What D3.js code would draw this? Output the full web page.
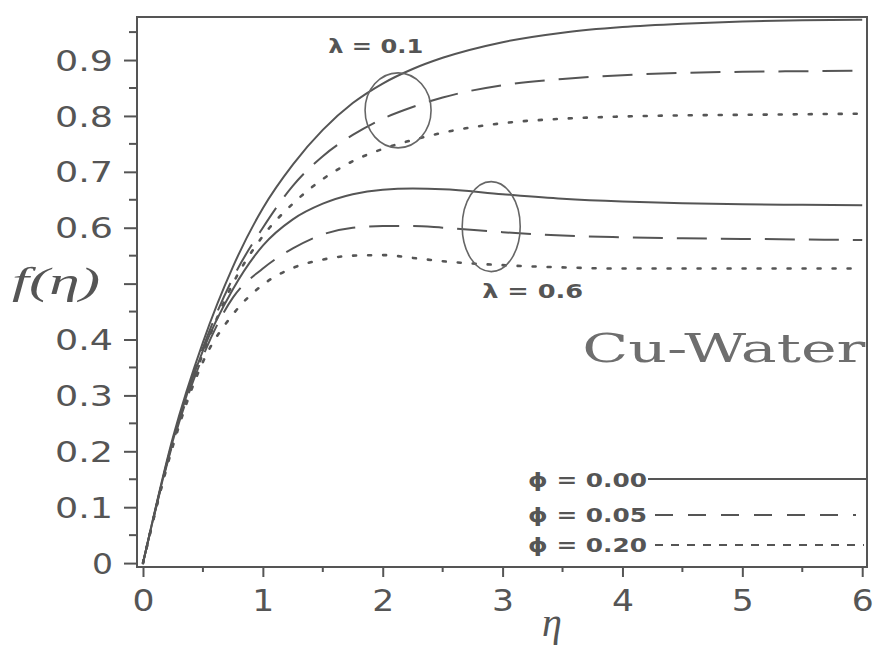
<!DOCTYPE html>
<html>
<head>
<meta charset="utf-8">
<script src="https://cdn.jsdelivr.net/npm/d3@7/dist/d3.min.js"></script>
<style>
  html, body { margin: 0; padding: 0; background: #fff; }
  svg { display: block; }
</style>
</head>
<body>
<svg id="chart" width="873" height="650"></svg>
<script>
// Similarity variable η
const eta = [0, 0.25, 0.5, 0.75, 1, 1.25, 1.5, 1.75, 2, 2.25, 2.5, 3, 3.5, 4, 4.5, 5, 5.5, 6];

// f(η) for λ = 0.1
const lam01_phi000 = [0, 0.225, 0.395, 0.53, 0.635, 0.713, 0.775, 0.823, 0.858, 0.884, 0.904, 0.932, 0.949, 0.959, 0.965, 0.969, 0.971, 0.972];
const lam01_phi005 = [0, 0.22, 0.385, 0.51, 0.60, 0.675, 0.728, 0.766, 0.795, 0.816, 0.833, 0.855, 0.866, 0.873, 0.877, 0.879, 0.880, 0.881];
const lam01_phi020 = [0, 0.215, 0.375, 0.50, 0.585, 0.643, 0.687, 0.719, 0.741, 0.757, 0.770, 0.787, 0.795, 0.799, 0.801, 0.802, 0.803, 0.804];

// f(η) for λ = 0.6
const lam06_phi000 = [0, 0.22, 0.38, 0.49, 0.568, 0.615, 0.643, 0.66, 0.668, 0.670, 0.669, 0.660, 0.652, 0.647, 0.644, 0.642, 0.641, 0.640];
const lam06_phi005 = [0, 0.215, 0.37, 0.475, 0.527, 0.563, 0.588, 0.600, 0.603, 0.603, 0.600, 0.592, 0.586, 0.583, 0.581, 0.580, 0.579, 0.578];
const lam06_phi020 = [0, 0.21, 0.36, 0.445, 0.498, 0.528, 0.543, 0.550, 0.551, 0.546, 0.540, 0.533, 0.529, 0.527, 0.527, 0.527, 0.527, 0.527];

// Axis ticks
const xTicks = [0, 1, 2, 3, 4, 5, 6];
const xMinor = [0.5, 1.5, 2.5, 3.5, 4.5, 5.5];
const yTicks = [0, 0.1, 0.2, 0.3, 0.4, 0.5, 0.6, 0.7, 0.8, 0.9];
const yMinor = [0.05, 0.15, 0.25, 0.35, 0.45, 0.55, 0.65, 0.75, 0.85, 0.95];
const yTickLabels = ["0", "0.1", "0.2", "0.3", "0.4", "", "0.6", "0.7", "0.8", "0.9"];

// Legend entries
const phiLabels = ["ϕ = 0.00", "ϕ = 0.05", "ϕ = 0.20"];

const ink = "#555";
const svg = d3.select("#chart");
const plotLeft = 137, plotRight = 867, plotTop = 17, plotBottom = 567;

const x = d3.scaleLinear().domain([-0.05, 6.04]).range([plotLeft, plotRight]);
const y = d3.scaleLinear().domain([-0.007, 0.977]).range([plotBottom, plotTop]);

svg.append("defs").append("clipPath").attr("id", "plotClip")
  .append("rect").attr("x", plotLeft).attr("y", plotTop)
  .attr("width", plotRight - plotLeft).attr("height", plotBottom - plotTop);

// Curves
const line = d3.line().x((d, i) => x(eta[i])).y(d => y(d)).curve(d3.curveMonotoneX);
const curveStyles = [
  { data: lam01_phi000, dash: null },
  { data: lam01_phi005, dash: "30,14" },
  { data: lam01_phi020, dash: "3,12" },
  { data: lam06_phi000, dash: null },
  { data: lam06_phi005, dash: "30,14" },
  { data: lam06_phi020, dash: "3,12" }
];
const gCurves = svg.append("g").attr("clip-path", "url(#plotClip)");
curveStyles.forEach(c => {
  gCurves.append("path")
    .attr("d", line(c.data))
    .attr("fill", "none")
    .attr("stroke", ink)
    .attr("stroke-width", c.dash === "3,12" ? 2.6 : 2)
    .attr("stroke-linecap", c.dash === "3,12" ? "round" : "butt")
    .attr("stroke-dasharray", c.dash);
});

// Frame
svg.append("rect")
  .attr("x", plotLeft).attr("y", plotTop)
  .attr("width", plotRight - plotLeft).attr("height", plotBottom - plotTop)
  .attr("fill", "none").attr("stroke", ink).attr("stroke-width", 2);

// Y axis
const yAxis = svg.append("g").attr("transform", `translate(${plotLeft},0)`)
  .call(d3.axisLeft(y).tickValues(yTicks).tickSize(13).tickPadding(10)
    .tickFormat((d, i) => yTickLabels[i]));
yAxis.select(".domain").remove();
yAxis.selectAll(".tick line").attr("stroke", ink).attr("stroke-width", 2);
yAxis.selectAll(".tick text")
  .attr("fill", ink)
  .style("font-family", "'DejaVu Sans', sans-serif")
  .style("font-size", "28px")
  .attr("x", -24)
  .attr("dy", "0.36em")
  .attr("textLength", (d, i) => yTickLabels[i].length === 1 ? 21 : 58)
  .attr("lengthAdjust", "spacingAndGlyphs");
svg.append("g").selectAll("line").data(yMinor).join("line")
  .attr("x1", plotLeft - 8).attr("x2", plotLeft)
  .attr("y1", d => y(d)).attr("y2", d => y(d))
  .attr("stroke", ink).attr("stroke-width", 2);

// X axis
const xAxis = svg.append("g").attr("transform", `translate(0,${plotBottom})`)
  .call(d3.axisBottom(x).tickValues(xTicks).tickSize(10).tickFormat(d3.format("d")));
xAxis.select(".domain").remove();
xAxis.selectAll(".tick line").attr("stroke", ink).attr("stroke-width", 2);
xAxis.selectAll(".tick text")
  .attr("fill", ink)
  .style("font-family", "'DejaVu Sans', sans-serif")
  .style("font-size", "30px")
  .attr("y", 44).attr("dy", 0)
  .attr("textLength", 22)
  .attr("lengthAdjust", "spacingAndGlyphs");
svg.append("g").selectAll("line").data(xMinor).join("line")
  .attr("x1", d => x(d)).attr("x2", d => x(d))
  .attr("y1", plotBottom).attr("y2", plotBottom + 5)
  .attr("stroke", ink).attr("stroke-width", 2);

// Axis titles
svg.append("text")
  .attr("x", 12).attr("y", 294)
  .attr("textLength", 88).attr("lengthAdjust", "spacingAndGlyphs")
  .style("font-family", "'Liberation Serif', 'DejaVu Serif', serif")
  .style("font-style", "italic").style("font-size", "38px")
  .attr("fill", ink).text("f(η)");
svg.append("text")
  .attr("x", 552).attr("y", 636).attr("text-anchor", "middle")
  .style("font-family", "'Liberation Serif', 'DejaVu Serif', serif")
  .style("font-style", "italic").style("font-size", "40px")
  .attr("fill", ink).text("η");

// Group annotations
const boldLabel = (t, ex, fy, w) => svg.append("text")
  .attr("x", x(ex)).attr("y", y(fy))
  .attr("textLength", w).attr("lengthAdjust", "spacingAndGlyphs")
  .style("font-family", "'DejaVu Sans', sans-serif")
  .style("font-weight", "bold").style("font-size", "19px")
  .attr("fill", ink).text(t);
boldLabel("λ = 0.1", 1.545, 0.913, 95);
boldLabel("λ = 0.6", 2.83, 0.475, 101);

const ellipses = [
  { cx: 2.128, cy: 0.810, rx: 33, ry: 37.5 },
  { cx: 2.905, cy: 0.602, rx: 29, ry: 45 }
];
svg.append("g").selectAll("ellipse").data(ellipses).join("ellipse")
  .attr("cx", d => x(d.cx)).attr("cy", d => y(d.cy))
  .attr("rx", d => d.rx).attr("ry", d => d.ry)
  .attr("fill", "none").attr("stroke", "#666").attr("stroke-width", 1.6);

svg.append("text")
  .attr("x", x(3.665)).attr("y", y(0.359))
  .attr("textLength", 283).attr("lengthAdjust", "spacingAndGlyphs")
  .style("font-family", "'DejaVu Serif', serif")
  .style("font-size", "40px")
  .attr("fill", "#6e6e6e").text("Cu-Water");

// Legend
const legendRows = [
  { ty: 487, ly: 479, x1: 648, x2: 866, dash: null },
  { ty: 522, ly: 515, x1: 655, x2: 856, dash: "18,15" },
  { ty: 552, ly: 545, x1: 655, x2: 864, dash: "8,8" }
];
const gLegend = svg.append("g");
legendRows.forEach((r, i) => {
  gLegend.append("text")
    .attr("x", 528).attr("y", r.ty)
    .attr("textLength", 119).attr("lengthAdjust", "spacingAndGlyphs")
    .style("font-family", "'DejaVu Sans', sans-serif")
    .style("font-weight", "bold").style("font-size", "19px")
    .attr("fill", ink).text(phiLabels[i]);
  gLegend.append("line")
    .attr("x1", r.x1).attr("x2", r.x2).attr("y1", r.ly).attr("y2", r.ly)
    .attr("stroke", ink).attr("stroke-width", 2)
    .attr("stroke-dasharray", r.dash);
});
</script>
</body>
</html>
